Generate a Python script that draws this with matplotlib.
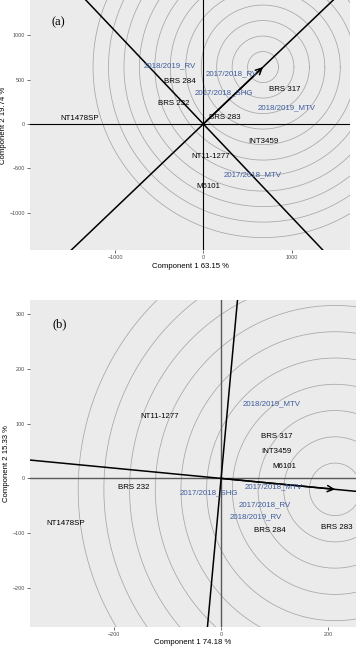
import matplotlib
matplotlib.use("Agg")
import matplotlib.pyplot as plt
import numpy as np

plt.rcParams['font.family'] = ['Liberation Sans', 'DejaVu Sans']

# ---------------- Panel (a) data ----------------
a_gen_labels = ["BRS 284", "BRS 232", "NT1478SP", "BRS 283", "BRS 317",
                "INT3459", "NT11-1277", "M6101"]
a_gen_x = [-264, -340, -1396, 238, 918, 680, 87, 57]
a_gen_y = [477, 233, 64, 71, 395, -192, -369, -700]
a_env_labels = ["2018/2019_RV", "2017/2018_RV", "2017/2018_SHG",
                "2018/2019_MTV", "2017/2018_MTV"]
a_env_x = [-377, 321, 228, 944, 555]
a_env_y = [655, 564, 353, 188, -576]
a_ideal = (676, 643)
a_ring_step = 175
a_ring_count = 11
a_xlabel = "Component 1 63.15 %"
a_ylabel = "Component 2 19.74 %"
a_xticks = [-1000, 0, 1000]
a_yticks = [-1000, -500, 0, 500, 1000]

# ---------------- Panel (b) data ----------------
b_gen_labels = ["NT11-1277", "BRS 317", "INT3459", "M6101", "BRS 232",
                "NT1478SP", "BRS 284", "BRS 283"]
b_gen_x = [-115, 104, 103, 118, -164, -290, 92, 217]
b_gen_y = [113, 77, 50, 22.5, -16, -82, -96, -90]
b_env_labels = ["2018/2019_MTV", "2017/2018_MTV", "2017/2018_SHG",
                "2017/2018_RV", "2018/2019_RV"]
b_env_x = [95, 98, -22, 82, 65]
b_env_y = [137, -15, -27, -49, -70]
b_ideal = (213, -20)
b_ring_step = 48
b_ring_count = 10
b_xlabel = "Component 1 74.18 %"
b_ylabel = "Component 2 15.33 %"
b_xticks = [-200, 0, 200]
b_yticks = [-200, -100, 0, 100, 200, 300]

ENV_COLOR = "#3B5B9E"
PANEL_BG = "#EBEBEB"
W, H = 359, 650

fig = plt.figure(figsize=(W / 100, H / 100), dpi=100)


def panel(rect, xlim, ylim, gen, env, ideal, step, count, xlabel, ylabel,
          xticks, yticks, tag, axis_color, axis_lw):
    ax = fig.add_axes(rect)
    ax.set_facecolor(PANEL_BG)
    ax.set_xlim(*xlim)
    ax.set_ylim(*ylim)
    for s in ax.spines.values():
        s.set_visible(False)
    # concentric circles around ideal point
    t = np.linspace(0, 2 * np.pi, 400)
    for k in range(1, count + 1):
        r = k * step
        ax.plot(ideal[0] + r * np.cos(t), ideal[1] + r * np.sin(t),
                color="#A6A6A6", lw=0.55, zorder=1)
    # axes lines at 0
    ax.axhline(0, color=axis_color, lw=axis_lw, zorder=2)
    ax.axvline(0, color=axis_color, lw=axis_lw, zorder=2)
    # AEA line and perpendicular
    ax.axline((0, 0), ideal, color="black", lw=1.1, zorder=3)
    ax.axline((0, 0), (-ideal[1], ideal[0]), color="black", lw=1.1, zorder=3)
    ax.annotate("", xy=ideal, xytext=(0, 0),
                arrowprops=dict(arrowstyle="->", lw=1.1, color="black",
                                mutation_scale=11, shrinkA=0, shrinkB=0),
                zorder=4)
    labels, gx, gy = gen
    for l, x, y in zip(labels, gx, gy):
        ax.text(x, y, l, ha="center", va="center", fontsize=5.7,
                color="black", zorder=5)
    labels, ex, ey = env
    for l, x, y in zip(labels, ex, ey):
        ax.text(x, y, l, ha="center", va="center", fontsize=5.7,
                color=ENV_COLOR, zorder=5)
    ax.set_xticks(xticks)
    ax.set_yticks(yticks)
    ax.tick_params(labelsize=3.9, labelcolor="#4D4D4D", color="#333333",
                   length=2, width=0.5, pad=1.5)
    ax.set_xlabel(xlabel, fontsize=5.6, labelpad=2)
    ax.set_ylabel(ylabel, fontsize=5.6, labelpad=2)
    ax.text(0.09, 0.91 if tag == "(a)" else 0.925, tag, transform=ax.transAxes,
            family=["Liberation Serif", "DejaVu Serif"], fontsize=9,
            ha="center", va="center")
    return ax


panel([30 / W, 1 - 250 / H, 320 / W, 250 / H], (-1963, 1661), (-1422, 1400),
      (a_gen_labels, a_gen_x, a_gen_y), (a_env_labels, a_env_x, a_env_y),
      a_ideal, a_ring_step, a_ring_count, a_xlabel, a_ylabel,
      a_xticks, a_yticks, "(a)", "black", 0.8)

panel([30 / W, 1 - 626.7 / H, 326 / W, 326.7 / H], (-357, 252), (-271, 326),
      (b_gen_labels, b_gen_x, b_gen_y), (b_env_labels, b_env_x, b_env_y),
      b_ideal, b_ring_step, b_ring_count, b_xlabel, b_ylabel,
      b_xticks, b_yticks, "(b)", "#5A5A5A", 1.0)

fig.savefig("out.png", dpi=100, facecolor="white")
